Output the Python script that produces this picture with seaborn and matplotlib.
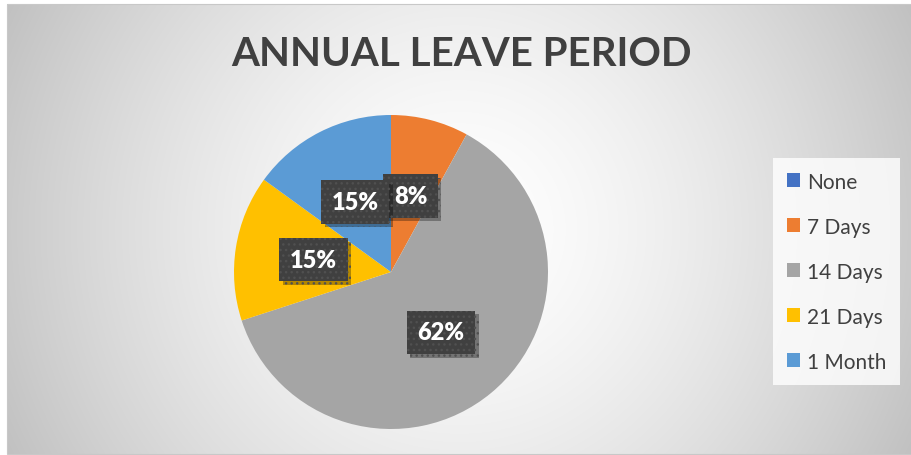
import numpy as np
import matplotlib
matplotlib.use("Agg")
import matplotlib.pyplot as plt
import matplotlib.patheffects as pe
from matplotlib.patches import Patch, Rectangle
import seaborn as sns

# Survey results: share of respondents per annual leave period (percent)
categories = ["None", "7 Days", "14 Days", "21 Days", "1 Month"]
shares = [0, 8, 62, 15, 15]
colors = ["#4472C4", "#ED7D31", "#A5A5A5", "#FFC000", "#5B9BD5"]
title = "ANNUAL LEAVE PERIOD"

sns.set_theme(style="white")
plt.rcParams["font.family"] = ["Lato", "DejaVu Sans"]

W, H = 912, 456
fig = plt.figure(figsize=(W / 100, H / 100), dpi=100)
fig.patch.set_facecolor("white")

# Chart area with a radial white-to-grey gradient
cx0, cy0, cw, ch = 7, 5, 905, 450
bg = fig.add_axes([cx0 / W, 1 - (cy0 + ch) / H, cw / W, ch / H])
yy, xx = np.mgrid[0:ch, 0:cw]
dist = np.hypot(xx + cx0 - 459, yy + cy0 - 230) / 520
shade = (255 - 65 * np.clip(dist, 0, 1) ** 1.5) / 255
bg.imshow(np.dstack([shade, shade, shade]), aspect="auto", interpolation="bilinear")
bg.set_axis_off()
fig.add_artist(Rectangle((cx0 / W, 1 - (cy0 + ch) / H), cw / W, ch / H,
                         transform=fig.transFigure, fill=False,
                         edgecolor="#c8c8c8", linewidth=0.8))

# Pie
r = 157
pcx, pcy = 391, 273
ax = fig.add_axes([(pcx - r) / W, 1 - (pcy + r) / H, 2 * r / W, 2 * r / H])
wedges, texts, autotexts = ax.pie(
    shares,
    colors=colors,
    startangle=90,
    counterclock=False,
    autopct=lambda p: f"{p:.0f}%" if p > 0 else "",
    pctdistance=0.5,
    wedgeprops=dict(linewidth=0),
    textprops=dict(color="white", fontsize=17, fontweight="heavy"),
)
ax.set_xlim(-1, 1)
ax.set_ylim(-1, 1)
ax.set_aspect("equal")
ax.set_axis_off()

for t in autotexts:
    t.set_bbox(dict(boxstyle="square,pad=0.45", facecolor="#404040",
                    edgecolor="#505050", linewidth=0, hatch="..."))
    patch = t.get_bbox_patch()
    patch.set_path_effects([
        pe.SimplePatchShadow(offset=(2.5, -2.5), shadow_rgbFace="black", alpha=0.3),
        pe.Normal(),
    ])

# Title
fig.text(461.5 / W, 1 - 55 / H, title, ha="center", va="center",
         fontsize=29, fontweight="bold", color="#404040")

# Legend
handles = [Patch(facecolor=c, edgecolor="none") for c in colors]
leg = fig.legend(handles, categories, loc="upper left",
                 bbox_to_anchor=(773 / W, 1 - 159 / H),
                 fontsize=15, labelspacing=1.2, handlelength=0.65,
                 handleheight=0.65, handletextpad=0.35, borderpad=0.65,
                 borderaxespad=0, fancybox=False, frameon=True,
                 labelcolor="#404040")
frame = leg.get_frame()
frame.set_facecolor((1, 1, 1, 0.15))
frame.set_edgecolor("none")

fig.savefig("out.png", dpi=100)
